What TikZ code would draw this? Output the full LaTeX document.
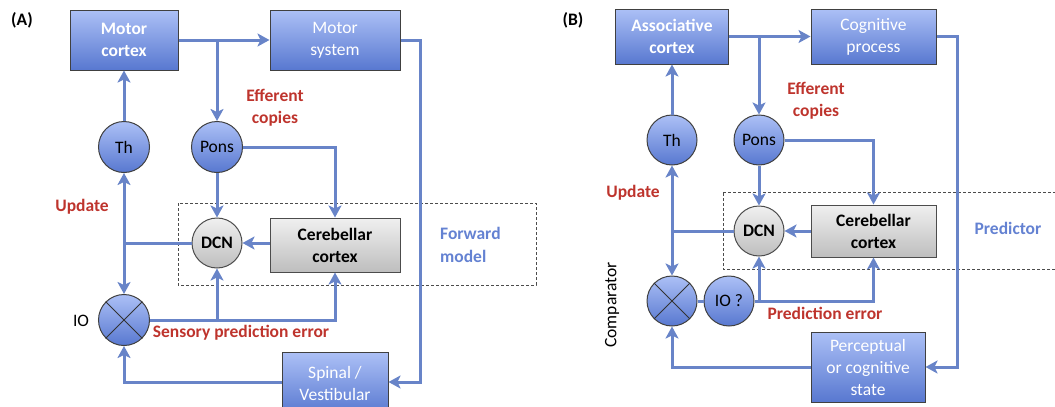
\documentclass[tikz,border=0pt]{standalone}
\usepackage{fontspec}
\setmainfont{Carlito}
\usetikzlibrary{arrows.meta}
\definecolor{lineblue}{RGB}{104,132,200}
\definecolor{boxtop}{RGB}{172,192,246}
\definecolor{boxbot}{RGB}{88,120,208}
\definecolor{greytop}{RGB}{240,240,240}
\definecolor{greybot}{RGB}{190,190,190}
\definecolor{labred}{RGB}{190,52,45}
\definecolor{labblue}{RGB}{100,130,210}
\tikzset{
  every node/.style={font=\fontsize{17.5}{22}\selectfont, align=center, inner sep=0pt},
  bluebox/.style={rectangle, draw=black!75, line width=1pt, top color=boxtop, bottom color=boxbot, text=white},
  greybox/.style={rectangle, draw=black!70, line width=1pt, top color=greytop, bottom color=greybot, font=\fontsize{17.5}{22}\selectfont\bfseries},
  bluecirc/.style={circle, draw=black!75, line width=1pt, top color=boxtop, bottom color=boxbot, minimum size=51pt},
  greycirc/.style={circle, draw=black!70, line width=1pt, top color=greytop, bottom color=greybot, minimum size=50pt, font=\fontsize{17.5}{22}\selectfont\bfseries},
  conn/.style={line width=3pt, draw=lineblue, -{Stealth[length=12pt,width=13pt,inset=3pt]}},
  plain/.style={line width=3pt, draw=lineblue},
  redlab/.style={text=labred, font=\fontsize{17.5}{22}\selectfont\bfseries},
  bluelab/.style={text=labblue, font=\fontsize{17.5}{23}\selectfont\bfseries},
  dashbox/.style={draw=black!70, line width=1pt, dash pattern=on 3pt off 2pt},
}
\begin{document}
\begin{tikzpicture}[x=1pt,y=-1pt]
\useasboundingbox (0,0) rectangle (1055,407);
% ---------------- Panel A ----------------
\node[font=\fontsize{17.5}{22}\selectfont\bfseries] (labA) at (22,20) {(A)};
\draw[dashbox] (178,203) rectangle (536,285);
\node[bluebox, minimum width=108pt, minimum height=60pt, font=\fontsize{17.5}{22}\selectfont\bfseries] (mc) at (124,40) {Motor\\cortex};
\node[bluebox, minimum width=130pt, minimum height=60pt] (ms) at (335,40) {Motor\\system};
\node[bluecirc] (th) at (124,147) {Th};
\node[bluecirc] (pons) at (217,147) {Pons};
\node[greycirc] (dcn) at (217,243) {DCN};
\node[greybox, minimum width=130pt, minimum height=54pt] (cc) at (335,245) {Cerebellar\\cortex};
\node[bluecirc] (io) at (124,320) {};
\draw[black!80, line width=1pt] (io.north east) -- (io.south west) (io.north west) -- (io.south east);
\node[bluebox, minimum width=106pt, minimum height=62pt, anchor=north] (sv) at (335,352) {Spinal /\\Vestibular};
\coordinate (ja) at (io.north |- dcn.west);
\coordinate (jb) at (pons.north |- mc.east);
\coordinate (jc) at (dcn.south |- io.east);
\draw[conn] (mc.east) -- (ms.west);
\draw[conn] (jb) -- (pons.north);
\draw[conn] (th.north) -- (mc.south);
\draw[conn] (pons.east) -| (cc.north);
\draw[conn] (pons.south) -- (dcn.north);
\draw[conn] (cc.west |- dcn.east) -- (dcn.east);
\draw[plain] (dcn.west) -- (ja);
\draw[conn] (ja) -- (th.south);
\draw[conn] (ja) -- (io.north);
\draw[conn] (io.east) -| (cc.south);
\draw[conn] (jc) -- (dcn.south);
\draw[conn] (ms.east) -- ++(20,0) |- (sv.east |- 0,382);
\draw[conn] (sv.west |- 0,382) -| (io.south);
\node[redlab] (eff) at (275,108) {Efferent\\copies};
\node[redlab] (upd) at (82,207) {Update};
\node (iolab) at (81,321) {IO};
\node[redlab] (spe) at (241,333) {Sensory prediction error};
\node[bluelab, align=left, anchor=west] (fm) at (440,245) {Forward\\model};
% ---------------- Panel B ----------------
\node[font=\fontsize{17.5}{22}\selectfont\bfseries] (labB) at (573,20) {(B)};
\draw[dashbox] (723,192) -- (1060,192) (1060,269) -- (723,269) -- (723,192);
\node[bluebox, minimum width=113pt, minimum height=55pt, font=\fontsize{17.5}{22}\selectfont\bfseries] (ac) at (672,36.5) {Associative\\cortex};
\node[bluebox, minimum width=125pt, minimum height=55pt] (cp) at (873.5,36.5) {Cognitive\\process};
\node[bluecirc, minimum size=50pt] (th2) at (672,140) {Th};
\node[bluecirc, minimum size=50pt] (pons2) at (759,140) {Pons};
\node[greycirc] (dcn2) at (759,231) {DCN};
\node[greybox, minimum width=125pt, minimum height=52pt] (cc2) at (873.5,231) {Cerebellar\\cortex};
\node[bluecirc, minimum size=50pt] (cmp) at (672,301) {};
\draw[black!80, line width=1pt] (cmp.north east) -- (cmp.south west) (cmp.north west) -- (cmp.south east);
\node[bluecirc, minimum size=50pt] (io2) at (729,301) {IO ?};
\node[bluebox, minimum width=114pt, minimum height=70pt] (pcs) at (868,367) {Perceptual\\or cognitive\\state};
\coordinate (ka) at (cmp.north |- dcn2.west);
\coordinate (kb) at (pons2.north |- ac.east);
\coordinate (kc) at (dcn2.south |- io2.east);
\draw[conn] (ac.east) -- (cp.west);
\draw[conn] (kb) -- (pons2.north);
\draw[conn] (th2.north) -- (ac.south);
\draw[conn] (pons2.east) -| (cc2.north);
\draw[conn] (pons2.south) -- (dcn2.north);
\draw[conn] (cc2.west) -- (dcn2.east);
\draw[plain] (dcn2.west) -- (ka);
\draw[conn] (ka) -- (th2.south);
\draw[conn] (ka) -- (cmp.north);
\draw[plain] (cmp.east) -- (io2.west);
\draw[conn] (io2.east) -| (cc2.south);
\draw[conn] (kc) -- (dcn2.south);
\draw[conn] (cp.east) -- ++(21,0) |- (pcs.east);
\draw[conn] (pcs.west) -| (cmp.south);
\node[redlab] (eff2) at (816,101) {Efferent\\copies};
\node[redlab] (upd2) at (633,193) {Update};
\node[redlab] (pe) at (825,313) {Prediction error};
\node[rotate=90] (cmplab) at (612,305) {Comparator};
\node[bluelab] (pred) at (1008,228) {Predictor};
\end{tikzpicture}
\end{document}
